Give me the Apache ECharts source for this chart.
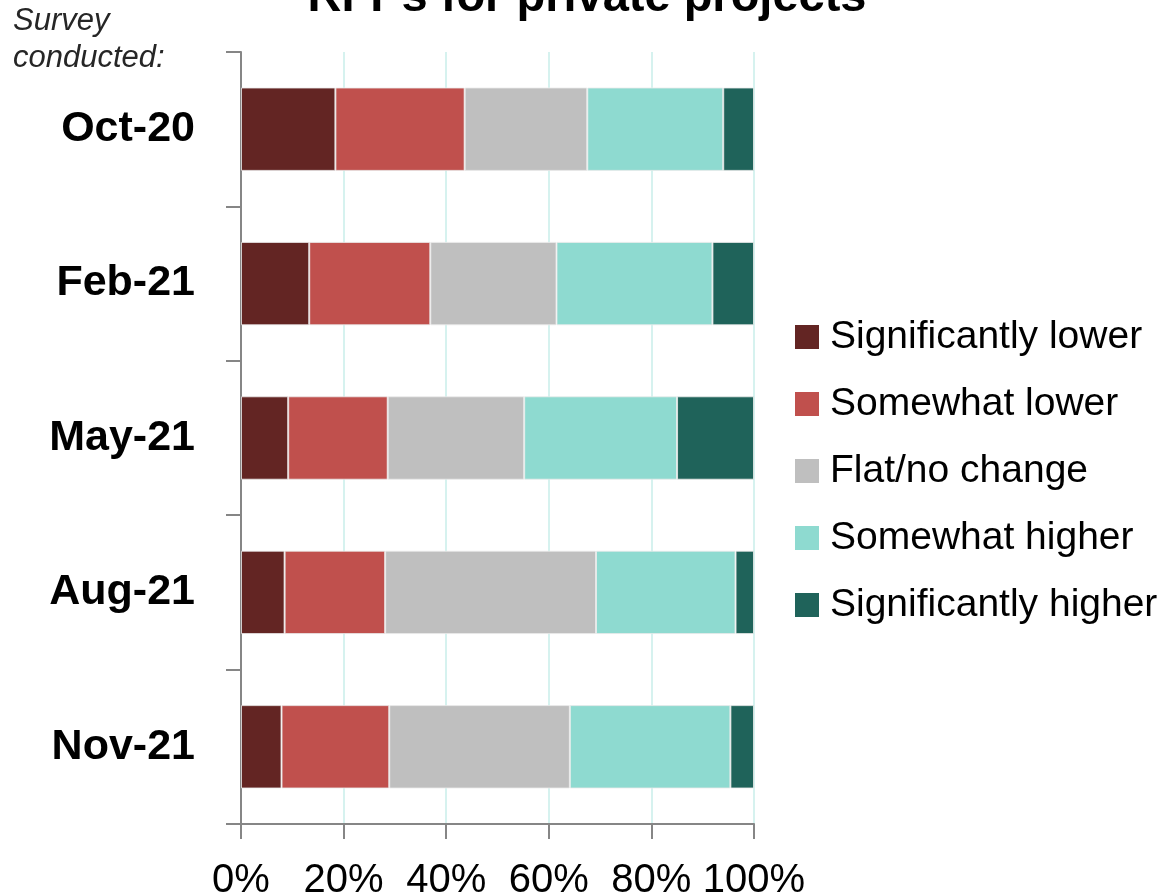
<!DOCTYPE html>
<html>
<head>
<meta charset="utf-8">
<script src="https://cdn.jsdelivr.net/npm/echarts@6/dist/echarts.min.js"></script>
<style>
  html, body { margin: 0; padding: 0; background: #fff; }
  #main { width: 1163px; height: 896px; }
</style>
</head>
<body>
<div id="main"></div>
<script>
var surveys = ['Oct-20', 'Feb-21', 'May-21', 'Aug-21', 'Nov-21'];
var sigLower = [18.4, 13.3, 9.2, 8.5, 7.9];
var someLower = [25.2, 23.6, 19.4, 19.6, 21.0];
var flat = [23.9, 24.6, 26.6, 41.1, 35.2];
var someHigher = [26.5, 30.4, 29.8, 27.2, 31.3];
var sigHigher = [6.0, 8.1, 15.0, 3.6, 4.6];

var seriesNames = ['Significantly lower', 'Somewhat lower', 'Flat/no change', 'Somewhat higher', 'Significantly higher'];
var seriesData = [sigLower, someLower, flat, someHigher, sigHigher];
var colors = ['#632523', '#C0504D', '#BFBFBF', '#8EDAD0', '#1F635A'];

var chart = echarts.init(document.getElementById('main'));

var series = seriesNames.map(function (name, i) {
    return {
        name: name,
        type: 'bar',
        stack: 'total',
        barWidth: '54%',
        itemStyle: {
            color: colors[i],
            borderColor: 'rgba(235,235,235,0.8)',
            borderWidth: 1
        },
        data: seriesData[i]
    };
});

var option = {
    animation: false,
    color: colors,
    graphic: [
        {
            type: 'text', left: 13, top: 6,
            style: { text: 'Survey', font: 'italic 31px "Liberation Sans", Arial', fill: '#262626' }
        },
        {
            type: 'text', left: 13, top: 43,
            style: { text: 'conducted:', font: 'italic 31px "Liberation Sans", Arial', fill: '#262626' }
        },
        {
            type: 'text', x: 587, y: 22,
            style: {
                text: 'RFPs for private projects',
                font: 'bold 47px "Liberation Sans", Arial',
                fill: '#000',
                align: 'center',
                verticalAlign: 'bottom'
            }
        }
    ],
    legend: {
        orient: 'vertical',
        left: 795,
        top: 317,
        padding: 0,
        itemWidth: 24,
        itemHeight: 24,
        itemGap: 27,
        icon: 'rect',
        itemStyle: { borderWidth: 0 },
        textStyle: {
            fontFamily: '"Liberation Sans", Arial',
            fontSize: 39,
            color: '#000',
            lineHeight: 40,
            padding: [0, 0, 0, 6]
        },
        data: seriesNames
    },
    grid: { left: 241, right: 409, top: 52, bottom: 72, outerBoundsMode: 'none', containLabel: false },
    xAxis: {
        type: 'value',
        min: 0,
        max: 100,
        interval: 20,
        axisLine: { show: true, lineStyle: { color: '#868686', width: 2 } },
        axisTick: { show: true, length: 15, lineStyle: { color: '#868686', width: 2 } },
        splitLine: { show: true, lineStyle: { color: '#C8EEEA', width: 1.5 } },
        axisLabel: {
            formatter: '{value}%',
            fontFamily: '"Liberation Sans", Arial',
            fontSize: 40,
            color: '#000',
            margin: 37
        }
    },
    yAxis: {
        type: 'category',
        inverse: true,
        data: surveys,
        axisLine: { show: true, lineStyle: { color: '#868686', width: 2 } },
        axisTick: { show: true, length: 15, lineStyle: { color: '#868686', width: 2 } },
        axisLabel: {
            fontFamily: '"Liberation Sans", Arial',
            fontWeight: 'bold',
            fontSize: 43,
            color: '#000',
            margin: 46,
            padding: [6, 0, 0, 0]
        }
    },
    series: series
};

chart.setOption(option);
</script>
</body>
</html>
